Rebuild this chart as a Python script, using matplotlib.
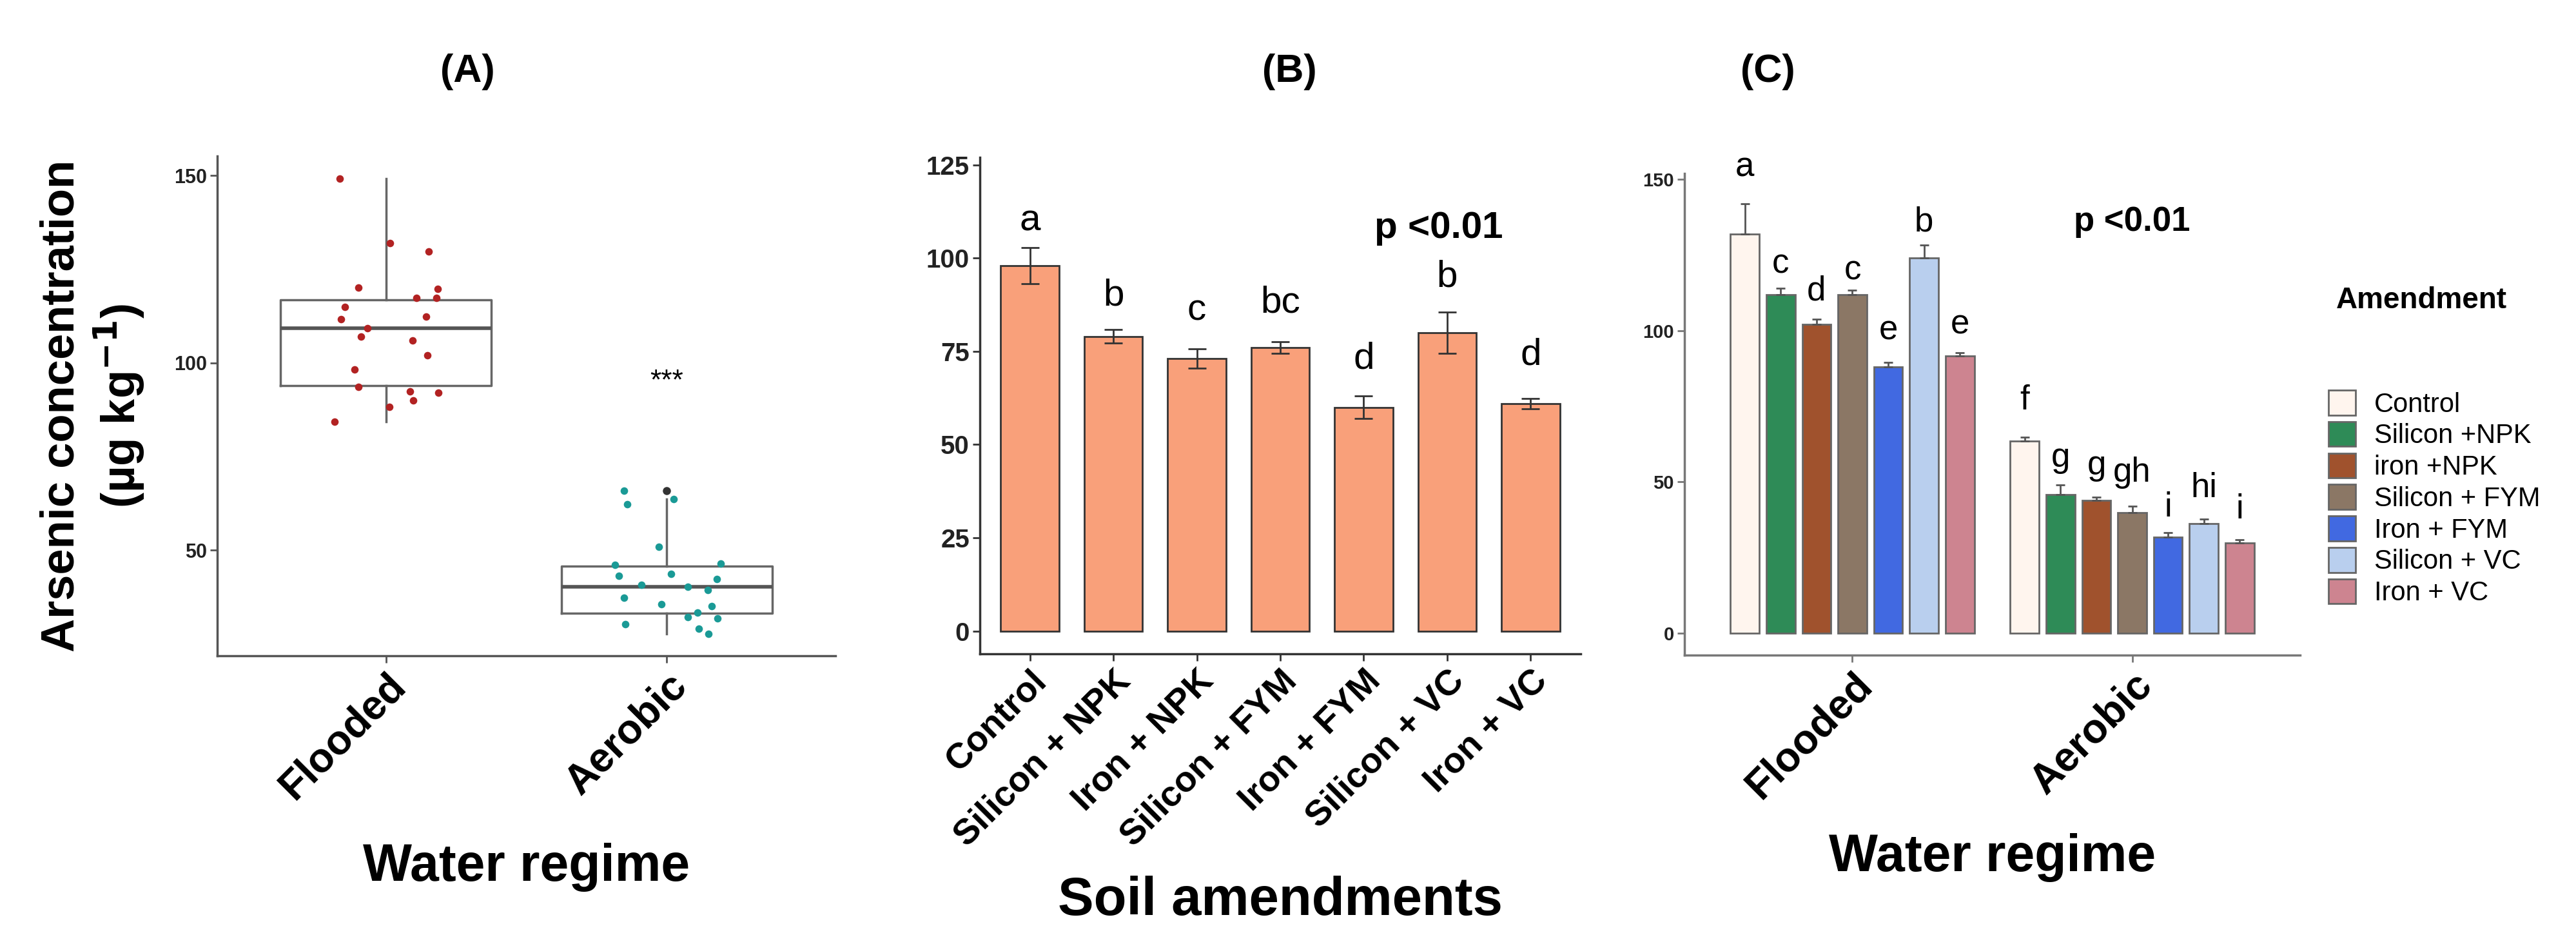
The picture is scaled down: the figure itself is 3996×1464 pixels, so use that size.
import matplotlib
matplotlib.use("Agg")
import matplotlib.pyplot as plt
from matplotlib.patches import Patch
import numpy as np

plt.rcParams['font.family'] = ['Liberation Sans', 'DejaVu Sans']

# ---------- data ----------
regimes = ["Flooded", "Aerobic"]
flooded_vals = [149.1, 132, 129.7, 120, 119.7, 117.4, 117.4, 115, 112.4, 111.7, 109.2,
                107, 106, 102, 98.2, 93.6, 92.3, 92, 89.9, 88.2, 84.3]
flooded_jit = [-0.164, 0.015, 0.153, -0.097, 0.184, 0.108, 0.180, -0.146, 0.144, -0.160, -0.066,
               -0.089, 0.094, 0.148, -0.112, -0.097, 0.085, 0.188, 0.098, 0.013, -0.182]
aerobic_vals = [65.9, 63.6, 62.2, 50.9, 46, 46.4, 43.2, 43.6, 42.3, 40.7, 40.3, 39.4,
                37.3, 35.6, 35, 33.4, 32.1, 31.7, 30.3, 29.1, 27.6]
aerobic_jit = [-0.153, 0.025, -0.140, -0.028, -0.185, 0.191, -0.170, 0.016, 0.177, -0.090, 0.074,
               0.146, -0.153, -0.020, 0.160, 0.110, 0.074, 0.181, -0.149, 0.114, 0.149]
box_q1 = [94, 33.1]
box_med = [109.2, 40.2]
box_q3 = [116.8, 45.8]
box_lo = [84.3, 27.6]
box_hi = [149.1, 63.6]
box_fliers = [[], [65.9]]

amend_b = ["Control", "Silicon + NPK", "Iron + NPK", "Silicon + FYM", "Iron + FYM", "Silicon + VC", "Iron + VC"]
b_means = [98, 79, 73, 76, 60, 80, 61]
b_err = [4.8, 1.8, 2.6, 1.6, 3.0, 5.5, 1.4]
b_letters = ["a", "b", "c", "bc", "d", "b", "d"]
b_letter_y = [110, 90, 86, 88, 73, 95, 74]

amend_c = ["Control", "Silicon +NPK", "iron +NPK", "Silicon + FYM", "Iron + FYM", "Silicon + VC", "Iron + VC"]
c_colors = ["#FFF5EE", "#2E8B57", "#A0522D", "#8B7765", "#4169E1", "#B9CFEE", "#CD8490"]
c_flooded = [132, 112, 102.2, 112, 88.1, 124.1, 91.7]
c_flooded_err = [10, 2, 1.6, 1.3, 1.5, 4.2, 1]
c_aerobic = [63.6, 45.9, 43.9, 39.8, 31.8, 36.1, 29.9]
c_aerobic_err = [1.2, 3.1, 1.0, 2.1, 1.5, 1.6, 1.0]
c_letters_f = ["a", "c", "d", "c", "e", "b", "e"]
c_letters_f_y = [154, 122, 113, 120, 100, 136, 102]
c_letters_a = ["f", "g", "g", "gh", "i", "hi", "i"]
c_letters_a_y = [77, 58, 55.5, 53, 41.5, 48, 41]

W, H = 3996, 1464
fig = plt.figure(figsize=(W / 100, H / 100), dpi=100)

def rect(l, r, t, b):
    return [l / W, (H - b) / H, (r - l) / W, (b - t) / H]

def style(ax, col, ylab_size):
    for s in ["top", "right"]:
        ax.spines[s].set_visible(False)
    for s in ["left", "bottom"]:
        ax.spines[s].set_color(col)
        ax.spines[s].set_linewidth(2.5)
    ax.tick_params(color=col, width=2, length=8)
    ax.tick_params(axis="x", labelcolor="black")
    ax.tick_params(axis="y", labelcolor="#222222", labelsize=ylab_size)
    for lab in ax.get_yticklabels():
        lab.set_fontweight("bold")

# ---------- Panel A ----------
axA = fig.add_axes(rect(337, 1296, 242, 1017))
stats = []
for i in range(2):
    stats.append(dict(q1=box_q1[i], med=box_med[i], q3=box_q3[i], whislo=box_lo[i],
                      whishi=box_hi[i], fliers=box_fliers[i]))
axA.bxp(stats, positions=[1, 2], widths=0.75, showfliers=True,
        boxprops=dict(color="#666666", linewidth=2.5),
        medianprops=dict(color="#555555", linewidth=4),
        whiskerprops=dict(color="#666666", linewidth=2.5),
        capprops=dict(linewidth=0),
        flierprops=dict(marker="o", markerfacecolor="#333333", markeredgecolor="#333333", markersize=8))
axA.scatter(1 + np.array(flooded_jit), flooded_vals, s=70, color="#B22222", zorder=3, linewidths=0)
axA.scatter(2 + np.array(aerobic_jit), aerobic_vals, s=70, color="#1A9A96", zorder=3, linewidths=0)
axA.text(2, 95, "***", ha="center", va="center", fontsize=32)
axA.set_xlim(0.4, 2.6)
axA.set_ylim(21.8, 155.2)
axA.set_yticks([50, 100, 150])
axA.set_xticks([1, 2])
axA.set_xticklabels(regimes, rotation=45, ha="right", rotation_mode="anchor",
                    fontsize=46, fontweight="bold")
style(axA, "#555555", 22)
axA.set_ylabel("Arsenic concentration\n(µg kg$^{\\mathbf{-1}}$)", fontsize=52, fontweight="bold", labelpad=30)
axA.set_xlabel("Water regime", fontsize=58, fontweight="bold", labelpad=40)
fig.text(725 / W, 1 - 112 / H, "(A)", ha="center", va="center", fontsize=44, fontweight="bold")

# ---------- Panel B ----------
axB = fig.add_axes(rect(1520, 2452, 244, 1014))
xb = np.arange(1, 8)
axB.bar(xb, b_means, width=0.7, color="#F9A07A", edgecolor="#333333", linewidth=2)
axB.errorbar(xb, b_means, yerr=b_err, fmt="none", ecolor="#333333", elinewidth=2, capsize=10, capthick=2)
for x, l, y in zip(xb, b_letters, b_letter_y):
    axB.text(x, y, l, ha="center", va="center", fontsize=42)
axB.text(5.9, 108, "p <0.01", ha="center", va="center", fontsize=42, fontweight="bold")
axB.set_xlim(0.4, 7.6)
axB.set_ylim(-6.1, 127)
axB.set_yticks([0, 25, 50, 75, 100, 125])
axB.set_xticks(xb)
axB.set_xticklabels(amend_b, rotation=45, ha="right", rotation_mode="anchor",
                    fontsize=40, fontweight="bold")
style(axB, "#333333", 29)
axB.set_xlabel("Soil amendments", fontsize=60, fontweight="bold", labelpad=25)
fig.text(2000 / W, 1 - 112 / H, "(B)", ha="center", va="center", fontsize=44, fontweight="bold")

# ---------- Panel C ----------
axC = fig.add_axes(rect(2613, 3568, 269, 1016))
step = 0.128
offs = (np.arange(7) - 3) * step
for j in range(7):
    xs = np.array([1, 2]) + offs[j]
    vals = [c_flooded[j], c_aerobic[j]]
    errs = [c_flooded_err[j], c_aerobic_err[j]]
    axC.bar(xs, vals, width=0.103, color=c_colors[j], edgecolor="#666666", linewidth=2)
    axC.errorbar(xs, vals, yerr=[[0, 0], errs], fmt="none", ecolor="#555555", elinewidth=2, capsize=5, capthick=2)
    axC.text(xs[0], c_letters_f_y[j], c_letters_f[j], ha="center", va="center", fontsize=38)
    axC.text(xs[1], c_letters_a_y[j], c_letters_a[j], ha="center", va="center", fontsize=38)
axC.text(2.0, 136, "p <0.01", ha="center", va="center", fontsize=38, fontweight="bold")
axC.set_xlim(0.4, 2.6)
axC.set_ylim(-7.3, 152)
axC.set_yticks([0, 50, 100, 150])
axC.set_xticks([1, 2])
axC.set_xticklabels(regimes, rotation=45, ha="right", rotation_mode="anchor",
                    fontsize=46, fontweight="bold")
style(axC, "#777777", 21)
axC.set_xlabel("Water regime", fontsize=58, fontweight="bold", labelpad=30)
fig.text(2742 / W, 1 - 112 / H, "(C)", ha="center", va="center", fontsize=44, fontweight="bold")

# legend
fig.text(3624 / W, 1 - 466 / H, "Amendment", ha="left", va="center", fontsize=33, fontweight="bold")
handles = [Patch(facecolor=c, edgecolor="#666666", linewidth=2) for c in c_colors]
fig.legend(handles, amend_c, loc="upper left", bbox_to_anchor=(3612 / W, 1 - 605 / H),
           frameon=False, fontsize=30, handlelength=1.0, handleheight=1.05,
           labelspacing=0.15, handletextpad=0.7, borderpad=0, borderaxespad=0)

fig.savefig("out.png", dpi=100)
